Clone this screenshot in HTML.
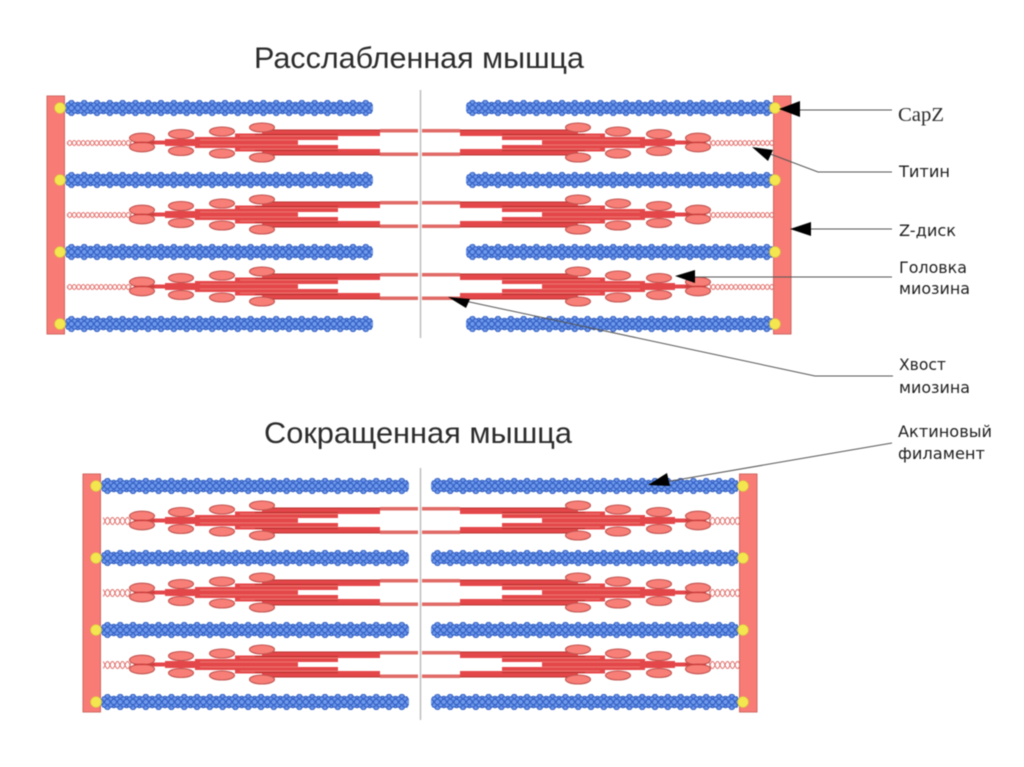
<!DOCTYPE html>
<html><head><meta charset="utf-8">
<style>
html,body{margin:0;padding:0;background:#fff;width:1024px;height:767px;overflow:hidden}
svg{display:block;filter:blur(.55px)}
.t{font-family:"DejaVu Sans","Liberation Sans",sans-serif;font-size:16px;fill:#1e1e1e}
.h{font-family:"Liberation Sans",sans-serif;font-size:30px;fill:#2b2b2b}
</style></head><body>
<svg width="1024" height="767" viewBox="0 0 1024 767" xmlns="http://www.w3.org/2000/svg">
<defs>
<pattern id="ac" patternUnits="userSpaceOnUse" x="0" y="-8" width="12.8" height="16">
<g fill="#6f98ea" stroke="#2c5ac0" stroke-width="1">
<circle cx="6.4" cy="3" r="2.7"/><circle cx="6.4" cy="13" r="2.7"/>
<circle cx="0" cy="5" r="2.7"/><circle cx="12.8" cy="5" r="2.7"/>
<circle cx="0" cy="11" r="2.7"/><circle cx="12.8" cy="11" r="2.7"/>
<circle cx="3.2" cy="5.5" r="2.7"/><circle cx="9.6" cy="5.5" r="2.7"/>
<circle cx="3.2" cy="10.5" r="2.7"/><circle cx="9.6" cy="10.5" r="2.7"/>
<circle cx="0" cy="8" r="2.7"/><circle cx="12.8" cy="8" r="2.7"/><circle cx="6.4" cy="8" r="2.7"/>
</g></pattern>
<pattern id="ti" patternUnits="userSpaceOnUse" x="0" y="-5" width="9" height="10">
<path d="M0 5Q2.25 0 4.5 5T9 5M0 5Q2.25 10 4.5 5T9 5" fill="none" stroke="#e4706c" stroke-width="1"/>
</pattern>
<pattern id="ti2" patternUnits="userSpaceOnUse" x="0" y="-6" width="10" height="12">
<path d="M0 6Q2.5 -1 5 6T10 6M0 6Q2.5 13 5 6T10 6" fill="none" stroke="#de6c68" stroke-width="1"/>
</pattern>
<g id="my">
<path d="M150-2H165V-3.5H195V-5.5H235V-9H262V-12.5H380V-6.5H338V-2.5H298V2.5H338V6.5H380V12.5H262V9H235V5.5H195V3.5H165V2H150Z" fill="#e4474a"/>
<path d="M262-12.5H380M262 12.5H380M255-8H338M255 8H338" stroke="#b8322f" stroke-width="1" fill="none"/>
<path d="M200-2.5H298M200 2.5H298M240-6.5H338M240 6.5H338" stroke="#f08a80" stroke-width=".7" fill="none"/>
<rect x="380" y="-13.5" width="38" height="3.5" fill="#e06a66"/>
<rect x="380" y="10" width="38" height="3.5" fill="#e06a66"/>
<g fill="#f87f78" stroke="#c0524e" stroke-width="1.1">
<ellipse cx="142" cy="-4.5" rx="12.5" ry="4.8"/><ellipse cx="142" cy="4.5" rx="12.5" ry="4.8"/>
<ellipse cx="181" cy="-8.5" rx="12.5" ry="4.5"/><ellipse cx="181" cy="8.5" rx="12.5" ry="4.5"/>
<ellipse cx="222" cy="-11" rx="12.5" ry="4.5"/><ellipse cx="222" cy="11" rx="12.5" ry="4.5"/>
<ellipse cx="262" cy="-15" rx="12.5" ry="4.5"/><ellipse cx="262" cy="15" rx="12.5" ry="4.5"/>
</g>
<path d="M134 0H155" stroke="#c93a38" stroke-width="1.2"/>
</g>
<g id="myo"><use href="#my"/><use href="#my" transform="translate(840,0) scale(-1,1)"/></g>
</defs>

<rect width="1024" height="767" fill="#fff"/>

<text class="h" x="254" y="68" textLength="330" lengthAdjust="spacingAndGlyphs">Расслабленная мышца</text>
<text class="h" x="264" y="443" textLength="308" lengthAdjust="spacingAndGlyphs">Сокращенная мышца</text>

<!-- center lines -->
<path d="M420.5 90V338M420.5 468V720" stroke="#bdbdbd" stroke-width="1.5"/>

<!-- top panel -->
<g fill="url(#ti)">
<rect x="67" y="-5" width="66" height="10" transform="translate(0,143)"/>
<rect x="67" y="-5" width="66" height="10" transform="translate(0,215)"/>
<rect x="67" y="-5" width="66" height="10" transform="translate(0,287)"/>
<rect x="707" y="-5" width="66" height="10" transform="translate(0,143)"/>
<rect x="707" y="-5" width="66" height="10" transform="translate(0,215)"/>
<rect x="707" y="-5" width="66" height="10" transform="translate(0,287)"/>
</g>
<use href="#myo" y="142.5"/><use href="#myo" y="214.5"/><use href="#myo" y="286.5"/>
<g fill="url(#ac)">
<rect x="0" y="-8" width="308" height="16" rx="7" transform="translate(65,108)"/>
<rect x="0" y="-8" width="308" height="16" rx="7" transform="translate(65,180)"/>
<rect x="0" y="-8" width="308" height="16" rx="7" transform="translate(65,252)"/>
<rect x="0" y="-8" width="308" height="16" rx="7" transform="translate(65,324)"/>
<rect x="0" y="-8" width="308" height="16" rx="7" transform="translate(466,108)"/>
<rect x="0" y="-8" width="308" height="16" rx="7" transform="translate(466,180)"/>
<rect x="0" y="-8" width="308" height="16" rx="7" transform="translate(466,252)"/>
<rect x="0" y="-8" width="308" height="16" rx="7" transform="translate(466,324)"/>
</g>
<rect x="47" y="96" width="17.5" height="238" fill="#f87b76" stroke="#cf6660"/>
<rect x="773.5" y="96" width="17.5" height="238" fill="#f87b76" stroke="#cf6660"/>
<g fill="#f3e64e" stroke="#d8b840" stroke-width=".6">
<circle cx="60" cy="108" r="5.5"/><circle cx="60" cy="180" r="5.5"/><circle cx="60" cy="252" r="5.5"/><circle cx="60" cy="324" r="5.5"/>
<circle cx="775" cy="108" r="5.5"/><circle cx="775" cy="180" r="5.5"/><circle cx="775" cy="252" r="5.5"/><circle cx="775" cy="324" r="5.5"/>
</g>

<!-- bottom panel -->
<g fill="url(#ti2)">
<rect x="103" y="-6" width="28" height="12" transform="translate(0,521)"/>
<rect x="103" y="-6" width="28" height="12" transform="translate(0,593)"/>
<rect x="103" y="-6" width="28" height="12" transform="translate(0,665)"/>
<rect x="709" y="-6" width="30" height="12" transform="translate(0,521)"/>
<rect x="709" y="-6" width="30" height="12" transform="translate(0,593)"/>
<rect x="709" y="-6" width="30" height="12" transform="translate(0,665)"/>
</g>
<use href="#myo" y="520.5"/><use href="#myo" y="592.5"/><use href="#myo" y="664.5"/>
<g fill="url(#ac)">
<rect x="0" y="-8" width="308" height="16" rx="7" transform="translate(101,486)"/>
<rect x="0" y="-8" width="308" height="16" rx="7" transform="translate(101,558)"/>
<rect x="0" y="-8" width="308" height="16" rx="7" transform="translate(101,630)"/>
<rect x="0" y="-8" width="308" height="16" rx="7" transform="translate(101,702)"/>
<rect x="0" y="-8" width="308" height="16" rx="7" transform="translate(431,486)"/>
<rect x="0" y="-8" width="308" height="16" rx="7" transform="translate(431,558)"/>
<rect x="0" y="-8" width="308" height="16" rx="7" transform="translate(431,630)"/>
<rect x="0" y="-8" width="308" height="16" rx="7" transform="translate(431,702)"/>
</g>
<rect x="83" y="474" width="17.5" height="238" fill="#f87b76" stroke="#cf6660"/>
<rect x="739.5" y="474" width="17.5" height="238" fill="#f87b76" stroke="#cf6660"/>
<g fill="#f3e64e" stroke="#d8b840" stroke-width=".6">
<circle cx="96" cy="486" r="5.5"/><circle cx="96" cy="558" r="5.5"/><circle cx="96" cy="630" r="5.5"/><circle cx="96" cy="702" r="5.5"/>
<circle cx="743" cy="486" r="5.5"/><circle cx="743" cy="558" r="5.5"/><circle cx="743" cy="630" r="5.5"/><circle cx="743" cy="702" r="5.5"/>
</g>

<!-- connectors -->
<g fill="none" stroke="#555" stroke-width="1">
<path d="M798 110H892"/>
<path d="M765 152L818 172H892"/>
<path d="M808 229H892"/>
<path d="M693 277H892"/>
<path d="M465 301L815 376H893"/>
<path d="M665 482L892 443"/>
</g>
<g fill="#000">
<path d="M779 109L800 101V117Z"/>
<path d="M752 147L773 150L768 161Z"/>
<path d="M790 229L811 222V236Z"/>
<path d="M675 276L695 270V283Z"/>
<path d="M448 297L470 299L466 308Z"/>
<path d="M648 485L667 473L670 486Z"/>
</g>

<!-- labels -->
<text x="898" y="121" font-family="Liberation Serif,serif" font-size="20" fill="#2a2a2a" textLength="46" lengthAdjust="spacingAndGlyphs">CapZ</text>
<text class="t" x="899" y="177" textLength="51" lengthAdjust="spacingAndGlyphs">Титин</text>
<text class="t" x="899" y="236" textLength="57" lengthAdjust="spacingAndGlyphs">Z-диск</text>
<text class="t" x="899" y="273" textLength="68" lengthAdjust="spacingAndGlyphs">Головка</text>
<text class="t" x="899" y="294" textLength="71" lengthAdjust="spacingAndGlyphs">миозина</text>
<text class="t" x="899" y="370" textLength="47" lengthAdjust="spacingAndGlyphs">Хвост</text>
<text class="t" x="899" y="393" textLength="71" lengthAdjust="spacingAndGlyphs">миозина</text>
<text class="t" x="898" y="437" textLength="94" lengthAdjust="spacingAndGlyphs">Актиновый</text>
<text class="t" x="898" y="459" textLength="87" lengthAdjust="spacingAndGlyphs">филамент</text>
</svg>
</body></html>
